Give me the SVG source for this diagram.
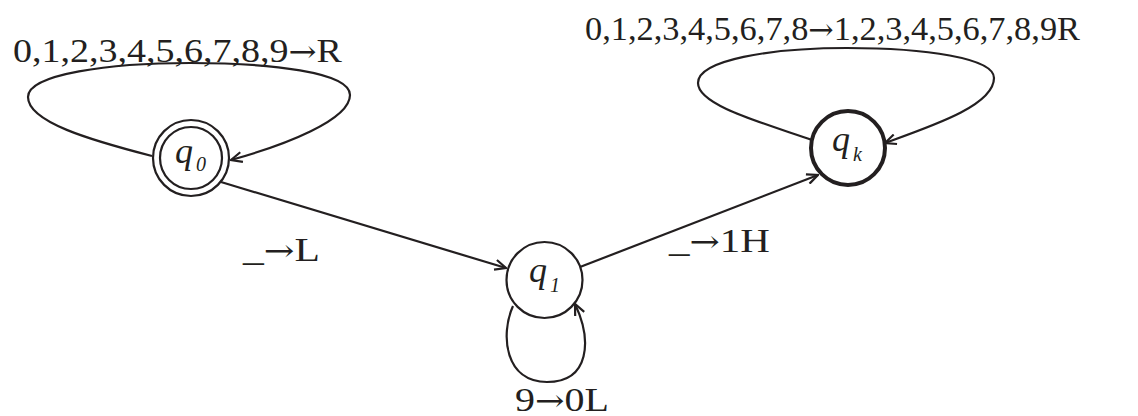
<svg xmlns="http://www.w3.org/2000/svg" width="1138" height="416" viewBox="0 0 1138 416">
<defs>
<style>
.lbl{font-family:"Liberation Serif","Times New Roman",serif;font-size:34px;fill:#231f20}
.ar{font-family:"DejaVu Serif","DejaVu Sans",serif;font-size:30px}
.q{font-family:"Liberation Serif","Times New Roman",serif;font-style:italic;font-size:36px;fill:#231f20}
.sub{font-family:"Liberation Serif","Times New Roman",serif;font-style:italic;font-size:20px;fill:#231f20}
.node{fill:#fff;stroke:#231f20;stroke-width:2.2}
.edge{fill:none;stroke:#231f20;stroke-width:2.2;marker-end:url(#arr)}
</style>
<marker id="arr" viewBox="0 0 13 12" refX="12" refY="6" markerWidth="13" markerHeight="12" markerUnits="userSpaceOnUse" orient="auto">
<path d="M1,1 L12,6 L1,11" fill="none" stroke="#231f20" stroke-width="2.2"/>
</marker>
</defs>
<rect width="1138" height="416" fill="#fff"/>
<g id="connectors">
<path class="edge" d="M152,156 C90,140 28,122 28,97 C28,74 110,63 190,63 C270,63 350,72 350,95 C350,120 285,145 231,160"/>
<path class="edge" d="M812,140 C760,122 698,105 698,83 C698,60 770,48 847,48 C925,48 994,58 994,78 C994,105 935,125 885,143"/>
<path class="edge" d="M221,182 L506,268"/>
<path class="edge" d="M580,267 L818,175"/>
<path class="edge" d="M513,306 C500,335 505,382 547,382 C590,382 592,340 575,304"/>
<text class="lbl" x="13" y="62" textLength="329" lengthAdjust="spacingAndGlyphs">0,1,2,3,4,5,6,7,8,9<tspan class="ar">→</tspan>R</text>
<text class="lbl" x="585" y="40" textLength="495" lengthAdjust="spacingAndGlyphs">0,1,2,3,4,5,6,7,8<tspan class="ar">→</tspan>1,2,3,4,5,6,7,8,9R</text>
<text class="lbl" x="243" y="261" textLength="77" lengthAdjust="spacingAndGlyphs">_<tspan class="ar">→</tspan>L</text>
<text class="lbl" x="669" y="252" textLength="101" lengthAdjust="spacingAndGlyphs">_<tspan class="ar">→</tspan>1H</text>
<text class="lbl" x="515" y="411" textLength="94" lengthAdjust="spacingAndGlyphs">9<tspan class="ar">→</tspan>0L</text>
</g>
<g id="q0">
<circle class="node" cx="191" cy="158" r="38"/>
<circle class="node" cx="191" cy="158" r="31"/>
<text class="q" x="175" y="163">q</text>
<text class="sub" x="196" y="171">0</text>
</g>
<g id="q1">
<circle class="node" cx="544.5" cy="280" r="38"/>
<text class="q" x="529" y="282">q</text>
<text class="sub" x="550" y="292">1</text>
</g>
<g id="qk">
<circle class="node" cx="848" cy="148" r="37" style="stroke-width:4"/>
<text class="q" x="832" y="151">q</text>
<text class="sub" x="853" y="161">k</text>
</g>
</svg>
